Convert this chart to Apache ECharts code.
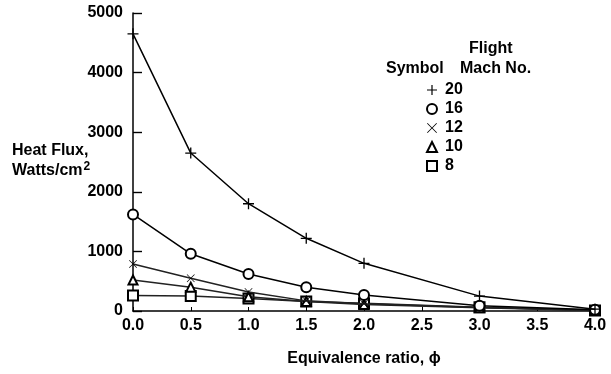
<!DOCTYPE html>
<html><head><meta charset="utf-8">
<script src="https://cdn.jsdelivr.net/npm/echarts@6/dist/echarts.min.js"></script>
<style>html,body{margin:0;padding:0;background:#fff}#c{width:611px;height:374px}</style>
</head><body><div id="c"></div>
<script>
var phi = [0, 0.5, 1.0, 1.5, 2.0, 3.0, 4.0];
var mach20 = [4650, 2650, 1800, 1220, 800, 250, 30];
var mach16 = [1620, 960, 620, 400, 270, 90, 20];
var mach12 = [790, 550, 320, 170, 120, 60, 15];
var mach10 = [520, 400, 240, 160, 110, 55, 10];
var mach8  = [260, 250, 210, 160, 130, 65, 10];
var machLabels = ['20', '16', '12', '10', '8'];
var xTicks = ['0.0','0.5','1.0','1.5','2.0','2.5','3.0','3.5','4.0'];

var plusPath = 'path://M0,4.4H10V5.6H0Z M4.4,0H5.6V10H4.4Z';
var crossPath = 'path://M0.6,0 L5,4.4 L9.4,0 L10,0.6 L5.6,5 L10,9.4 L9.4,10 L5,5.6 L0.6,10 L0,9.4 L4.4,5 L0,0.6Z';
var symbols = [plusPath, 'emptyCircle', crossPath, 'emptyTriangle', 'emptyRect'];
var sizes = [11, 10, 8, 9, 10];
var borders = [0, 1.1, 0, 1.1, 1.1];
var seriesData = [mach20, mach16, mach12, mach10, mach8];
var FONT = 'Liberation Sans, Arial, sans-serif';

function pairs(v){ return phi.map(function(x,i){ return [x, v[i]]; }); }

var series = seriesData.map(function(v, k){
  return {
    name: machLabels[k], type: 'line', data: pairs(v),
    symbol: symbols[k], symbolSize: sizes[k], showAllSymbol: true,
    lineStyle: {color: k >= 2 ? '#222' : '#000', width: 1.5},
    itemStyle: {color: '#000', borderColor: '#000', borderWidth: borders[k]},
    z: 10 - k, animation: false
  };
});

var chart = echarts.init(document.getElementById('c'));
chart.setOption({
  animation: false,
  backgroundColor: '#fff',
  grid: {left: 133, right: 16, top: 13, bottom: 63, containLabel: false},
  xAxis: {
    type: 'value', min: 0, max: 4, interval: 0.5,
    name: 'Equivalence ratio, \u03d5', nameLocation: 'middle', nameGap: 40,
    nameTextStyle: {fontFamily: FONT, fontSize: 16, fontWeight: 'bold', color: '#000'},
    axisLine: {lineStyle: {color: '#000', width: 1.5}},
    axisTick: {inside: true, length: 4, lineStyle: {color: '#000'}},
    axisLabel: {fontFamily: FONT, fontSize: 16, fontWeight: 'bold', color: '#000', margin: 7,
      formatter: function(v){ return xTicks[Math.round(v*2)]; }},
    splitLine: {show: false}
  },
  yAxis: {
    type: 'value', min: 0, max: 5000, interval: 1000,
    axisLine: {show: true, lineStyle: {color: '#000', width: 1.5}},
    axisTick: {show: true, inside: true, length: 9, lineStyle: {color: '#000', width: 1.4}},
    axisLabel: {fontFamily: FONT, fontSize: 16, fontWeight: 'bold', color: '#000', margin: 10,
      formatter: function(v){ return String(v); }},
    splitLine: {show: false}
  },
  legend: {
    orient: 'vertical', left: 421, top: 77,
    itemWidth: 10, itemHeight: 10, itemGap: 3,
    selectedMode: false,
    data: machLabels.map(function(n, k){ return {name: n, icon: symbols[k]}; }),
    textStyle: {fontFamily: FONT, fontSize: 16, fontWeight: 'bold', color: '#000', lineHeight: 16,
      width: 18, align: 'center', padding: [0,0,0,3]}
  },
  graphic: [
    {type: 'text', left: 469, top: 41, style: {text: 'Flight', font: 'bold 16px ' + FONT, fill: '#000'}},
    {type: 'text', left: 386, top: 61, style: {text: 'Symbol', font: 'bold 16px ' + FONT, fill: '#000'}},
    {type: 'text', left: 460, top: 61, style: {text: 'Mach No.', font: 'bold 16px ' + FONT, fill: '#000'}},
    {type: 'text', left: 12, top: 143, style: {
      text: '{a|Heat Flux,}\n{a|Watts/cm}{s|2}',
      rich: {
        a: {font: 'bold 16px ' + FONT, fill: '#000', lineHeight: 20},
        s: {font: 'bold 12px ' + FONT, fill: '#000', lineHeight: 20, verticalAlign: 'top', padding: [0,0,8,1]}
      }
    }}
  ],
  series: series
});
</script></body></html>
